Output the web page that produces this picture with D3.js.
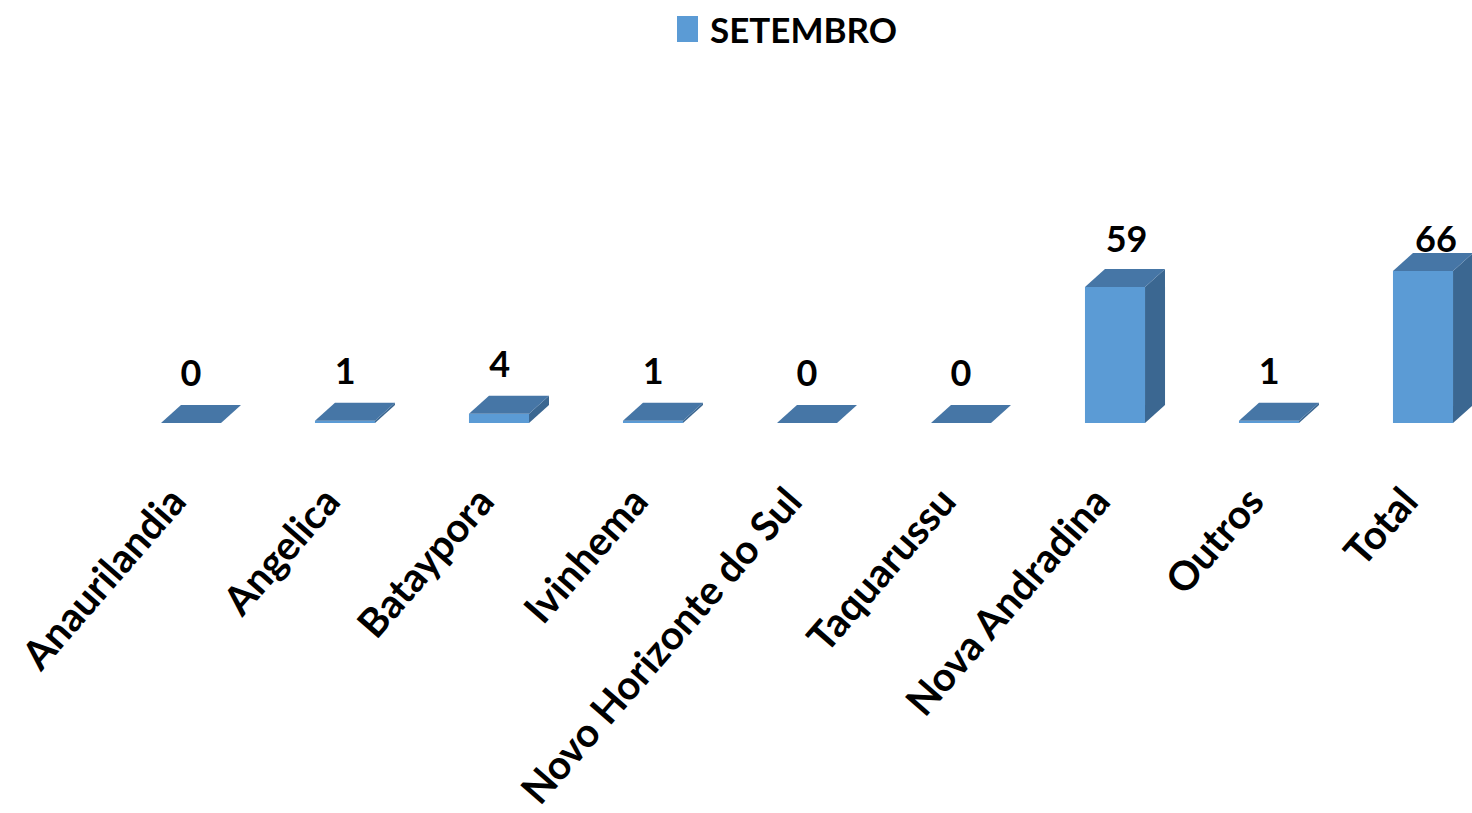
<!DOCTYPE html>
<html>
<head>
<meta charset="utf-8">
<script src="https://cdn.jsdelivr.net/npm/d3@7"></script>
<style>
  html, body { margin: 0; padding: 0; background: #ffffff; }
  svg { display: block; }
</style>
</head>
<body>
<svg id="chart" width="1472" height="813"></svg>
<script>
const categories = ["Anaurilandia", "Angelica", "Bataypora", "Ivinhema", "Novo Horizonte do Sul", "Taquarussu", "Nova Andradina", "Outros", "Total"];
const values = [0, 1, 4, 1, 0, 0, 59, 1, 66];
const seriesName = "SETEMBRO";

const W = 1472, H = 813;
const font = "Lato, 'Open Sans', sans-serif";
const colFront = "#5B9BD5", colTop = "#4676A6", colSide = "#3B6791";
const depthX = 20, depthY = 18;
const plotTop = 252; // data labels are kept inside the plot area

const svg = d3.select("#chart");

const x = d3.scaleBand()
  .domain(categories)
  .range([114, 1500])
  .paddingInner(0.61)
  .paddingOuter(0.305);

const y = d3.scaleLinear().domain([0, 66]).range([423, 271]);

const g = svg.append("g");

const bars = g.selectAll("g.bar").data(categories.map((c, i) => ({c, v: values[i]})))
  .enter().append("g").attr("class", "bar");

bars.each(function(d) {
  const sel = d3.select(this);
  const x0 = x(d.c), x1 = x0 + x.bandwidth();
  const yb = y(0), yt = y(d.v);
  // side
  sel.append("path")
    .attr("d", `M${x1},${yt} L${x1 + depthX},${yt - depthY} L${x1 + depthX},${yb - depthY} L${x1},${yb} Z`)
    .attr("fill", colSide);
  // front
  sel.append("path")
    .attr("d", `M${x0},${yt} L${x1},${yt} L${x1},${yb} L${x0},${yb} Z`)
    .attr("fill", colFront);
  // top
  sel.append("path")
    .attr("d", `M${x0},${yt} L${x1},${yt} L${x1 + depthX},${yt - depthY} L${x0 + depthX},${yt - depthY} Z`)
    .attr("fill", colTop);
  // value label
  const shift = (yb - yt) * 0.085;
  sel.append("text")
    .attr("x", (x0 + x1) / 2 + shift)
    .attr("y", Math.max(yt - depthY - 19, plotTop))
    .attr("text-anchor", "middle")
    .attr("font-family", font)
    .attr("font-weight", "bold")
    .attr("font-size", 36)
    .attr("fill", "#000")
    .text(d.v);
});

// category labels
g.selectAll("text.cat").data(categories).enter().append("text")
  .attr("class", "cat")
  .attr("transform", d => `translate(${x(d) + x.bandwidth() / 2 - 3},${503}) rotate(-49)`)
  .attr("text-anchor", "end")
  .attr("font-family", font)
  .attr("font-weight", "bold")
  .attr("font-size", 40)
  .attr("fill", "#000")
  .text(d => d);

// legend
const lg = svg.append("g");
lg.append("rect").attr("x", 677).attr("y", 16).attr("width", 21).attr("height", 26).attr("fill", colFront);
lg.append("text").attr("x", 710).attr("y", 43)
  .attr("font-family", font).attr("font-weight", "bold").attr("font-size", 35)
  .attr("fill", "#000").text(seriesName);
</script>
</body>
</html>
